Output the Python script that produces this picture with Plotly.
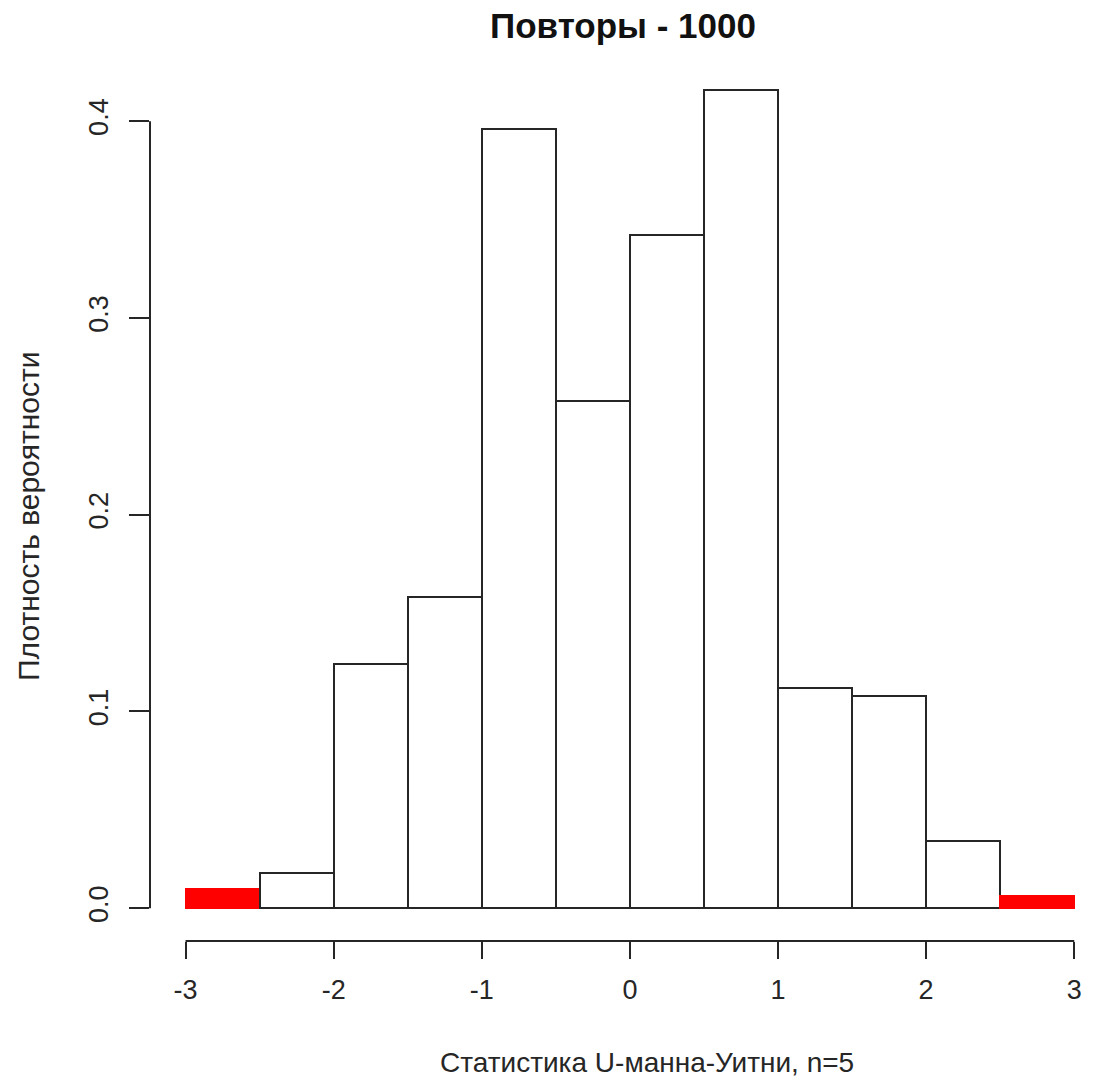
import plotly.graph_objects as go

# ---- data ----
bin_edges = [-3.0, -2.5, -2.0, -1.5, -1.0, -0.5, 0.0, 0.5, 1.0, 1.5, 2.0, 2.5, 3.0]
densities = [0.010, 0.018, 0.124, 0.158, 0.396, 0.258, 0.342, 0.416, 0.112, 0.108, 0.034, 0.006]
tail_bins = [True, False, False, False, False, False, False, False, False, False, False, True]
x_ticks = [-3, -2, -1, 0, 1, 2, 3]
y_ticks = [0.0, 0.1, 0.2, 0.3, 0.4]
y_tick_text = ["0.0", "0.1", "0.2", "0.3", "0.4"]
title_text = "Повторы - 1000"
x_label = "Статистика U-манна-Уитни, n=5"
y_label = "Плотность вероятности"

centers = [(a + b) / 2 for a, b in zip(bin_edges[:-1], bin_edges[1:])]
widths = [b - a for a, b in zip(bin_edges[:-1], bin_edges[1:])]

INK = "#262626"
FONT = "Liberation Sans, Arial, sans-serif"
fill = ["#ff0000" if t else "#ffffff" for t in tail_bins]
edge = ["#ff0000" if t else INK for t in tail_bins]

fig = go.Figure(go.Bar(
    x=centers, y=densities, width=widths,
    marker=dict(color=fill, line=dict(color=edge, width=2)),
    hoverinfo="x+y",
))

W, H = 1095, 1083
L, T, B = 150, 57, 142

fig.update_layout(
    width=W, height=H,
    margin=dict(l=L, r=0, t=T, b=B, autoexpand=False),
    plot_bgcolor="white", paper_bgcolor="white",
    showlegend=False, bargap=0,
    font=dict(family=FONT, size=27, color=INK),
    title=dict(text="<b>" + title_text + "</b>", x=623 / W, xref="container", xanchor="center",
               y=1 - 26 / H, yref="container", yanchor="middle",
               font=dict(family=FONT, size=35, color="#111")),
    xaxis=dict(range=[-3.24, 3.14], tickvals=x_ticks, ticktext=[str(v) for v in x_ticks],
               ticks="outside", ticklen=17, tickwidth=2, tickcolor=INK,
               showgrid=False, zeroline=False, showline=False,
               ticklabelstandoff=8, tickfont=dict(size=27, color=INK)),
    yaxis=dict(range=[-0.01664, 0.4326], tickvals=y_ticks, ticktext=y_tick_text,
               ticks="outside", ticklen=20, tickwidth=2, tickcolor=INK, tickangle=-90,
               showgrid=False, zeroline=False, showline=False,
               ticklabelstandoff=10, tickfont=dict(size=27, color=INK)),
    shapes=[
        dict(type="line", xref="x", yref="paper", x0=x_ticks[0], x1=x_ticks[-1], y0=0, y1=0,
             line=dict(color=INK, width=2)),
        dict(type="line", xref="paper", yref="y", x0=0, x1=0, y0=y_ticks[0], y1=y_ticks[-1],
             line=dict(color=INK, width=2)),
    ],
    annotations=[
        dict(text=x_label, xref="paper", yref="paper", x=(647 - L) / (W - L), y=-(1062 - (H - B)) / (H - T - B),
             xanchor="center", yanchor="middle", showarrow=False, font=dict(size=28, color=INK)),
        dict(text=y_label, xref="paper", yref="paper", x=-(L - 28) / (W - L), y=(H - B - 516) / (H - T - B),
             xanchor="center", yanchor="middle", showarrow=False, textangle=-90,
             font=dict(size=30, color=INK)),
    ],
)

fig.write_html("out.html")
